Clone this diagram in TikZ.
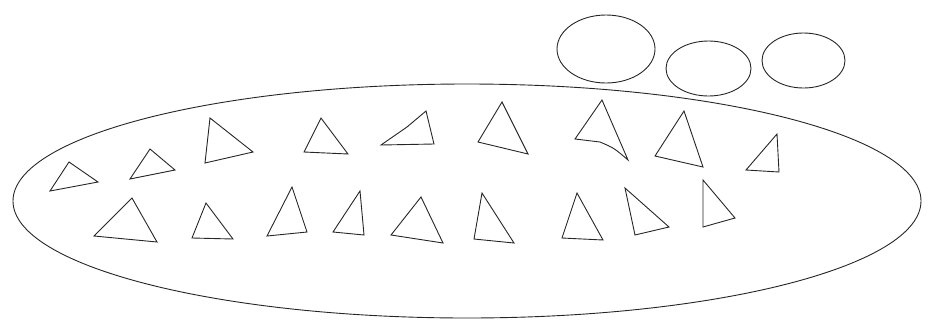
\documentclass[tikz,border=0pt]{standalone}
\usepackage{tikz}
\begin{document}
\begin{tikzpicture}[x=1pt, y=-1pt,
    outline/.style={draw=black!85, line width=0.9pt},
    tri/.style={draw=black!85, line width=0.9pt, line join=miter},
  ]
    \useasboundingbox (0,0) rectangle (932,325);

    % big ellipse
    \draw[outline] (467,201) ellipse [x radius=454, y radius=117];

    % three small ellipses on top
    \draw[outline] (606,49)   ellipse [x radius=49,   y radius=34];
    \draw[outline] (708.5,68.5) ellipse [x radius=42.5, y radius=27.5];
    \draw[outline] (803.5,60.5) ellipse [x radius=41.5, y radius=27.5];

    % upper row of triangles
    \draw[tri] (69,162)  -- (98,182)  -- (50,191)  -- cycle;
    \draw[tri] (150,149) -- (175,170) -- (130,179) -- cycle;
    \draw[tri] (210,118) -- (253,152) -- (205,163) -- cycle;
    \draw[tri] (321,118) -- (348,154) -- (304,152) -- cycle;
    \draw[tri] (426,111) -- (434,144) -- (381,145) -- (407,127) -- cycle;
    \draw[tri] (502,102) -- (528,154) -- (478,142) -- cycle;
    \draw[tri] (602,100) -- (628,160) .. controls (614,148) .. (600,142) -- (575,139) -- cycle;
    \draw[tri] (684,111) -- (703,167) -- (655,156) -- cycle;
    \draw[tri] (777,134) -- (779,172) -- (746,170) -- cycle;

    % lower row of triangles
    \draw[tri] (132,198) -- (157,242) -- (94,236)  -- cycle;
    \draw[tri] (206,203) -- (233,239) -- (192,238) -- cycle;
    \draw[tri] (292,187) -- (307,232) -- (267,236) -- cycle;
    \draw[tri] (360,191) -- (364,235) -- (333,232) -- cycle;
    \draw[tri] (421,197) -- (443,243) -- (391,235) -- cycle;
    \draw[tri] (482,193) -- (514,243) -- (474,239) -- cycle;
    \draw[tri] (577,193) -- (603,240) -- (562,238) -- cycle;
    \draw[tri] (625,188) -- (669,227) -- (635,235) -- cycle;
    \draw[tri] (703,180) -- (735,218) -- (703,227) -- cycle;
\end{tikzpicture}
\end{document}
